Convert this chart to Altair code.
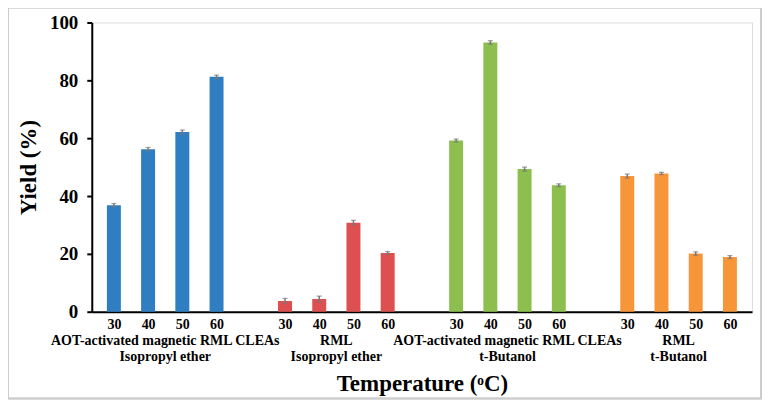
import json
import altair as alt
import pandas as pd

# ---- data ----
groups = [
    "AOT-activated magnetic RML CLEAs\nIsopropyl ether",
    "RML\nIsopropyl ether",
    "AOT-activated magnetic RML CLEAs\nt-Butanol",
    "RML\nt-Butanol",
]
temps = ["30", "40", "50", "60"]
yield_iso_cleas = [36.8, 56.2, 62.1, 81.2]
yield_iso_rml = [3.7, 4.4, 30.8, 20.3]
yield_tbu_cleas = [59.2, 93.1, 49.3, 43.7]
yield_tbu_rml = [46.9, 47.8, 20.1, 18.9]
err_iso_cleas = [0.6, 0.6, 0.7, 0.6]
err_iso_rml = [0.9, 1.0, 0.8, 0.5]
err_tbu_cleas = [0.5, 0.6, 0.7, 0.5]
err_tbu_rml = [0.7, 0.4, 0.6, 0.5]
colors = ["#2E7EC1", "#DE4F4F", "#8CBF4E", "#F79539"]

values = [yield_iso_cleas, yield_iso_rml, yield_tbu_cleas, yield_tbu_rml]
errors = [err_iso_cleas, err_iso_rml, err_tbu_cleas, err_tbu_rml]

rows = []
for gi, g in enumerate(groups):
    for ti, t in enumerate(temps):
        v = values[gi][ti]
        e = errors[gi][ti]
        rows.append({"group": g, "temp": t, "pos": gi * 5 + ti,
                     "yield": v, "lo": v - e, "hi": v + e})
df = pd.DataFrame(rows)

glab = pd.DataFrame({
    "group": groups,
    "pos": [gi * 5 + 1.5 for gi in range(len(groups))],
})

W, H = 662, 290
FONT = "'Liberation Serif', 'Times New Roman', Times, serif"

xscale = alt.Scale(domain=[-0.5, 18.5], nice=False, zero=False)
label_expr = "%s[datum.value %% 5]" % json.dumps(temps + [""])

x_enc = alt.X(
    "pos:Q", scale=xscale,
    axis=alt.Axis(
        values=list(df["pos"]), labelExpr=label_expr, grid=False, ticks=False,
        labelFont=FONT, labelFontWeight="bold", labelFontSize=14, labelColor="black",
        labelPadding=6, domainColor="black", domainWidth=2,
        title="Temperature (ᵒC)", titleFont=FONT, titleFontSize=23,
        titleFontWeight="bold", titleColor="black", titlePadding=41,
    ),
)
y_enc = alt.Y(
    "yield:Q", scale=alt.Scale(domain=[0, 100], nice=False),
    axis=alt.Axis(
        values=[0, 20, 40, 60, 80, 100], grid=False, tickSize=5, tickColor="black",
        tickWidth=2, labelFont=FONT, labelFontWeight="bold", labelFontSize=19,
        labelColor="black", labelPadding=9, domainColor="black", domainWidth=2,
        title="Yield (%)", titleFont=FONT, titleFontSize=23, titleFontWeight="bold",
        titleColor="black", titlePadding=9,
    ),
)

color_enc = alt.Color("group:N", scale=alt.Scale(domain=groups, range=colors), legend=None)

bars = alt.Chart(df).mark_bar(size=14).encode(x=x_enc, y=y_enc, color=color_enc)

err_rule = alt.Chart(df).mark_rule(color="#777777", strokeWidth=1.5).encode(
    x="pos:Q", y="lo:Q", y2="hi:Q")
err_top = alt.Chart(df).mark_tick(color="#777777", size=5, thickness=1.2, orient="horizontal").encode(
    x="pos:Q", y="hi:Q")
err_bot = alt.Chart(df).mark_tick(color="#777777", size=5, thickness=1.2, orient="horizontal").encode(
    x="pos:Q", y="lo:Q")

group_text = alt.Chart(glab).mark_text(
    font=FONT, fontSize=14, fontWeight="bold", color="black",
    baseline="middle", align="center", lineBreak="\n", lineHeight=16,
).encode(x=alt.X("pos:Q", scale=xscale), y=alt.value(H + 29), text="group:N")

frame = alt.Chart(glab).mark_rect(
    fill=None, stroke="#cccccc", strokeWidth=1.5, clip=False
).encode(x=alt.value(-84), x2=alt.value(W + 9), y=alt.value(-15), y2=alt.value(H + 87))

chart = alt.layer(frame, bars, err_rule, err_top, err_bot, group_text).properties(
    width=W, height=H,
    autosize=alt.AutoSizeParams(type="none"),
    padding={"left": 84, "top": 14, "right": 10, "bottom": 88},
).configure_view(stroke="black", strokeWidth=2).configure(background="white")

chart.save("out.html", embed_options={"renderer": "svg", "actions": False})
